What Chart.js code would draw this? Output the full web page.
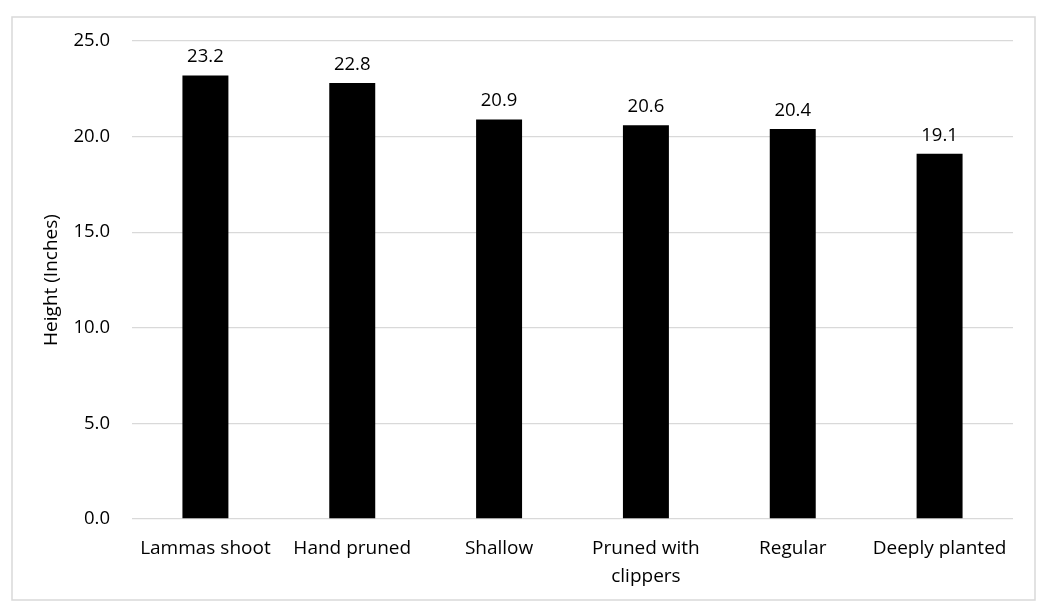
<!DOCTYPE html>
<html>
<head>
<meta charset="utf-8">
<script src="https://cdn.jsdelivr.net/npm/chart.js@4/dist/chart.umd.min.js"></script>
<style>
  html, body { margin: 0; padding: 0; background: #fff; }
  #wrap { width: 1048px; height: 612px; position: relative; }
</style>
</head>
<body>
<div id="wrap"><canvas id="chart" width="1048" height="612"></canvas></div>
<script>
// chart data
const categories = ['Lammas shoot', 'Hand pruned', 'Shallow', ['Pruned with', 'clippers'], 'Regular', 'Deeply planted'];
const heights = [23.2, 22.8, 20.9, 20.6, 20.4, 19.1];
const yTicks = [0, 5, 10, 15, 20, 25];

const FONT = '"Open Sans", "Noto Sans", sans-serif';

// light gray frame around the whole chart
const framePlugin = {
    id: 'frame',
    beforeDraw(chart) {
        const ctx = chart.ctx;
        ctx.save();
        ctx.fillStyle = '#fff';
        ctx.fillRect(0, 0, chart.width, chart.height);
        ctx.strokeStyle = '#d9d9d9';
        ctx.lineWidth = 1.5;
        ctx.strokeRect(12, 17, 1023, 583);
        ctx.restore();
    }
};

// value labels above each bar
const valueLabels = {
    id: 'valueLabels',
    afterDatasetsDraw(chart) {
        const ctx = chart.ctx;
        const meta = chart.getDatasetMeta(0);
        ctx.save();
        ctx.font = '18.5px ' + FONT;
        ctx.fillStyle = '#000';
        ctx.textAlign = 'center';
        ctx.textBaseline = 'bottom';
        meta.data.forEach((bar, i) => {
            ctx.fillText(heights[i].toFixed(1), bar.x, bar.y - 9);
        });
        ctx.restore();
    }
};

new Chart(document.getElementById('chart'), {
    type: 'bar',
    data: {
        labels: categories,
        datasets: [{
            data: heights,
            backgroundColor: '#000',
            borderWidth: 0,
            barPercentage: 0.62,
            categoryPercentage: 0.505
        }]
    },
    options: {
        responsive: false,
        animation: false,
        layout: { padding: { top: 41, right: 35, left: 0, bottom: 0 } },
        plugins: {
            legend: { display: false },
            tooltip: { enabled: false }
        },
        scales: {
            x: {
                grid: { display: false, drawTicks: false },
                border: { display: false },
                ticks: {
                    color: '#000',
                    font: { family: FONT, size: 19, lineHeight: 1.5 },
                    padding: 15,
                    maxRotation: 0,
                    autoSkip: false
                },
                afterFit(scale) { scale.height = 93; }
            },
            y: {
                min: 0,
                max: 25,
                afterBuildTicks(scale) {
                    scale.ticks = yTicks.map(v => ({ value: v }));
                },
                grid: { color: '#d9d9d9', lineWidth: 1.3, drawTicks: false },
                border: { display: false },
                ticks: {
                    color: '#000',
                    font: { family: FONT, size: 18.5 },
                    padding: 22,
                    callback: v => Number(v).toFixed(1)
                },
                title: {
                    display: true,
                    text: 'Height (Inches)',
                    color: '#000',
                    font: { family: FONT, size: 19 },
                    padding: { top: 40, bottom: 0 }
                },
                afterFit(scale) { scale.width = 132; }
            }
        }
    },
    plugins: [framePlugin, valueLabels]
});
</script>
</body>
</html>
